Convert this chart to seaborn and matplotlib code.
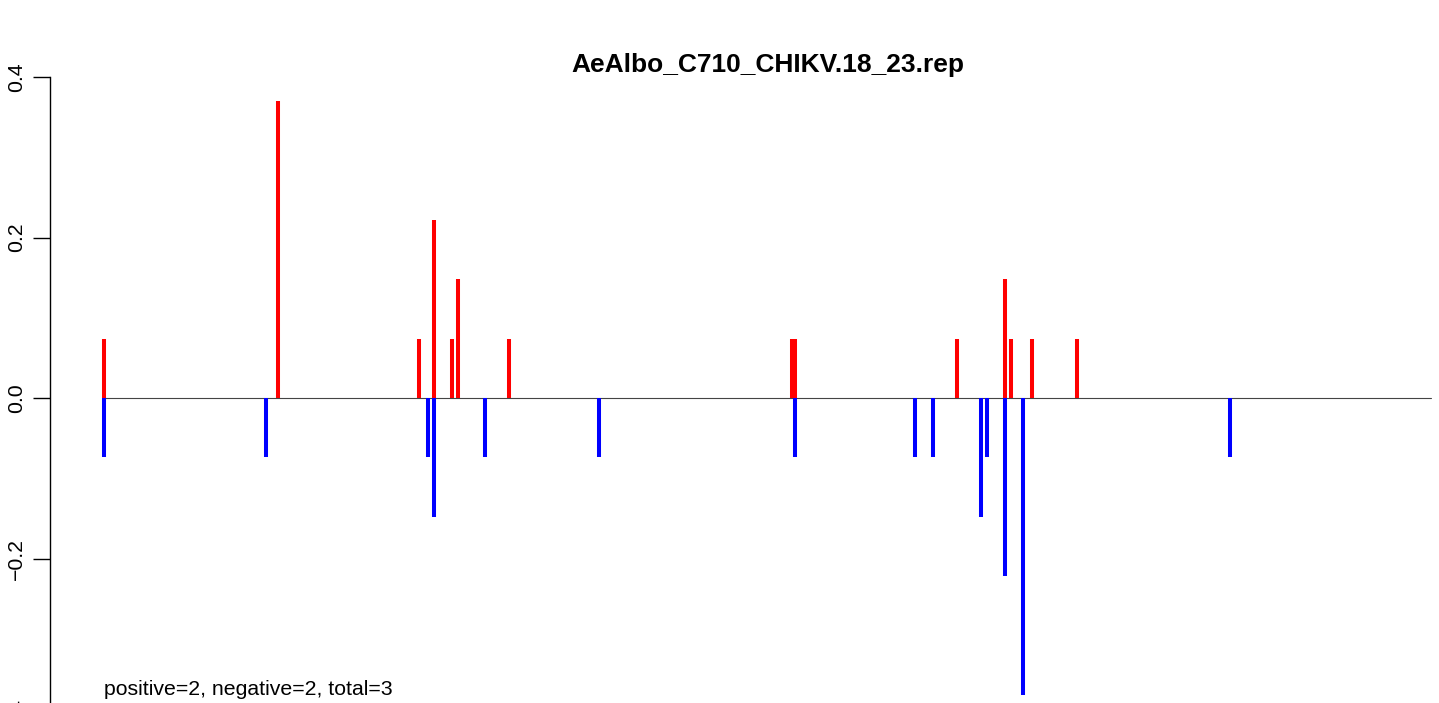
import matplotlib
matplotlib.use("Agg")
import numpy as np
import matplotlib.pyplot as plt
import seaborn as sns

# ─── Datos ────────────────────────────────────────────────────────────────────
titulo = "AeAlbo_C710_CHIKV.18_23.rep"
nota = "positive=2, negative=2, total=3"
seq_len = 443

pos_x = [1, 59, 106, 111, 117, 119, 136, 230, 231, 285, 301, 303, 310, 325]
pos_y = [0.074, 0.370, 0.074, 0.222, 0.074, 0.148, 0.074, 0.074, 0.074,
         0.074, 0.148, 0.074, 0.074, 0.074]

neg_x = [1, 55, 109, 111, 128, 166, 231, 271, 277, 293, 295, 301, 307, 376]
neg_y = [-0.074, -0.074, -0.074, -0.148, -0.074, -0.074, -0.074, -0.074,
         -0.074, -0.148, -0.074, -0.222, -0.370, -0.074]

yticks = [-0.4, -0.2, 0.0, 0.2, 0.4]

# ─── Estilo ───────────────────────────────────────────────────────────────────
sns.set_style("white")
plt.rcParams["font.family"] = ["Liberation Sans", "DejaVu Sans"]
plt.rcParams["text.color"] = "black"

W, H = 1439, 703
fig = plt.figure(figsize=(W / 100, H / 100), dpi=100)
# región de dibujo al estilo R (recortada a la derecha y abajo)
ax = fig.add_axes([50 / W, (H - 719) / H, 1435 / W, 642 / H])

ax.vlines(pos_x, 0, pos_y, color="#FF0000", linewidth=2.9, capstyle="butt")
ax.vlines(neg_x, 0, neg_y, color="#0000FF", linewidth=2.9, capstyle="butt")
ax.plot([1, seq_len], [0, 0], color="#444444", linewidth=0.8, zorder=0)

ax.set_xlim(-17.0, 461.0)
ax.set_ylim(-0.4, 0.4)

for s in ["top", "right", "bottom"]:
    ax.spines[s].set_visible(False)
ax.spines["left"].set_color("black")
ax.spines["left"].set_linewidth(1.0)
ax.spines["left"].set_bounds(-0.4, 0.4)

ax.set_xticks([])
ax.set_yticks(yticks)
ax.set_yticklabels([f"{v:.1f}".replace("-", "\u2212") for v in yticks],
                   rotation=90, va="center", fontsize=15.3)
ax.tick_params(axis="y", direction="out", length=12, width=1.0, pad=5,
               left=True, colors="black", labelcolor="black")

fig.text((50 + 1485) / 2 / W, 1 - 72 / H, titulo, ha="center", va="baseline",
         fontsize=19, fontweight="bold", color="black")
fig.text(104 / W, 1 - 695 / H, nota, ha="left", va="baseline", fontsize=15.3,
         color="black")

plt.savefig("out.png", dpi=100)
